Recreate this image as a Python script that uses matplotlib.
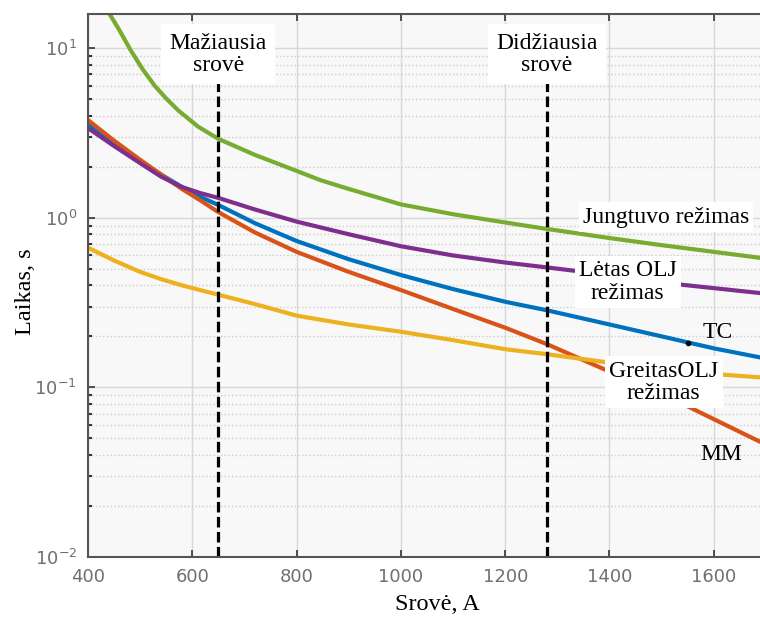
import matplotlib
matplotlib.use("Agg")
from matplotlib import pyplot as plt

srove = [400, 450, 500, 540, 580, 615, 650, 720, 800, 900, 1000, 1100, 1200, 1280, 1400, 1500, 1600, 1700]
tc = [3.6, 2.75, 2.15, 1.8, 1.52, 1.33, 1.19, 0.93, 0.73, 0.57, 0.46, 0.38, 0.32, 0.285, 0.235, 0.20, 0.17, 0.148]
mm = [3.77, 2.85, 2.2, 1.8, 1.48, 1.27, 1.08, 0.82, 0.63, 0.48, 0.375, 0.29, 0.225, 0.18, 0.124, 0.092, 0.065, 0.046]
greitas = [0.667, 0.56, 0.48, 0.435, 0.40, 0.375, 0.352, 0.31, 0.265, 0.235, 0.213, 0.19, 0.168, 0.157, 0.14, 0.128, 0.12, 0.114]
letas = [3.38, 2.65, 2.1, 1.75, 1.52, 1.4, 1.31, 1.12, 0.95, 0.80, 0.68, 0.60, 0.545, 0.51, 0.46, 0.415, 0.385, 0.357]
srove_j = [425, 442, 460, 482, 505, 528, 550, 573, 611, 650, 720, 806, 845, 900, 1000, 1100, 1228, 1280, 1400, 1500, 1600, 1700]
jungtuvo = [19.5, 15.8, 12.8, 9.7, 7.5, 6.0, 5.05, 4.3, 3.45, 2.92, 2.35, 1.86, 1.67, 1.48, 1.2, 1.05, 0.91, 0.86, 0.76, 0.69, 0.63, 0.575]
ribos = [650, 1280]
ribos_txt = ["Mažiausia\nsrovė", "Didžiausia\nsrovė"]
tc_taskas = (1550, 0.184)

serif = "Liberation Serif"

fig = plt.figure(figsize=(7.6, 6.21), dpi=100)
ax = fig.add_axes([0.1158, 0.103, 0.892, 0.874])
ax.set_facecolor("#f8f8f8")

ax.plot(srove, tc, color="#0072BD", lw=3)
ax.plot(srove, mm, color="#D95319", lw=3)
ax.plot(srove, greitas, color="#EDB120", lw=3)
ax.plot(srove, letas, color="#7E2F8E", lw=3)
ax.plot(srove_j, jungtuvo, color="#77AC30", lw=3)
ax.plot(*tc_taskas, marker="o", ms=3, color="black")

ax.set_yscale("log")
ax.set_xlim(400, 1700)
ax.set_ylim(0.01, 15.85)
ax.set_xticks(range(400, 1700, 200))

ax.grid(True, which="major", axis="both", color="#d8d8d8", lw=1)
ax.grid(True, which="minor", axis="y", color="#cccccc", lw=1, ls=":")
ax.tick_params(which="both", direction="in", top=True, right=False, color="#333333")
ax.tick_params(which="major", length=5, width=1.2)
ax.tick_params(which="minor", length=3, width=1.5)
ax.tick_params(axis="both", labelsize=13, labelcolor="#707070", pad=8)
for s in ax.spines.values():
    s.set_color("#555555")
    s.set_linewidth(1.5)

for x, t in zip(ribos, ribos_txt):
    ln = ax.vlines(x, 0.01, 6.4, color="black", lw=2.3)
    ln.set_linestyle((0, (3.3, 1.4)))
    ax.text(x, 9.2, t, ha="center", va="center", fontsize=17, family=serif,
            linespacing=1.1, bbox=dict(fc="white", ec="none", pad=6))

box = dict(fc="white", ec="none", pad=3)
ax.text(1349, 1.01, "Jungtuvo režimas", ha="left", va="center", fontsize=17, family=serif, bbox=box)
ax.text(1435, 0.42, "Lėtas OLJ\nrežimas", ha="center", va="center", fontsize=17, family=serif,
        linespacing=1.1, bbox=box)
ax.text(1504, 0.107, "GreitasOLJ\nrežimas", ha="center", va="center", fontsize=17, family=serif,
        linespacing=1.1, bbox=box)
ax.text(1579, 0.211, "TC", ha="left", va="center", fontsize=17, family=serif)
ax.text(1615, 0.040, "MM", ha="center", va="center", fontsize=17, family=serif)

fig.text(0.033, 0.53, "Laikas, s", rotation=90, ha="center", va="center", fontsize=17.5, family=serif)
fig.text(0.575, 0.026, "Srovė, A", ha="center", va="center", fontsize=17.5, family=serif)

fig.savefig("out.png", dpi=100)
